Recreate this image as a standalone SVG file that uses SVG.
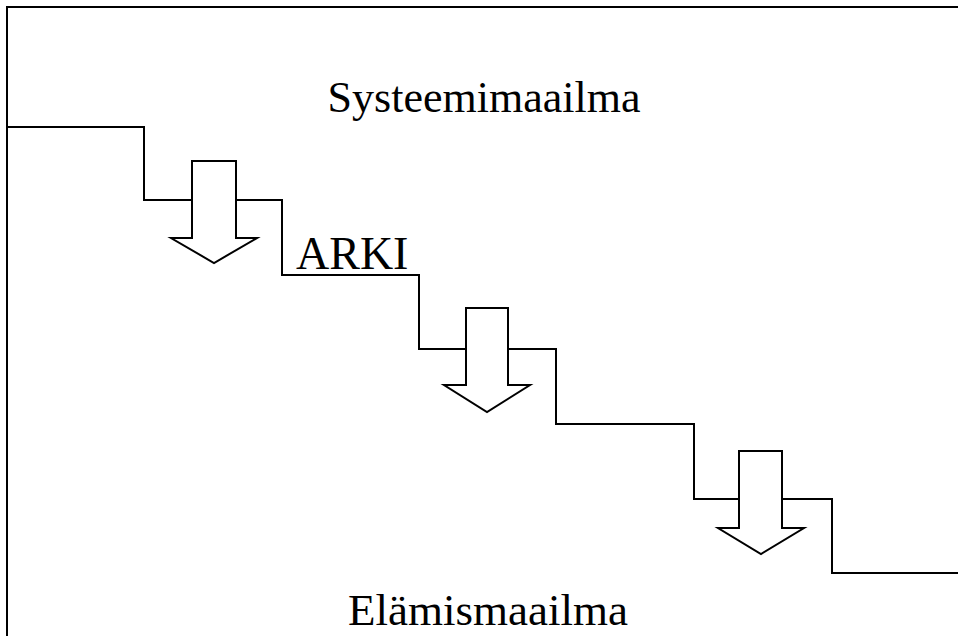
<svg xmlns="http://www.w3.org/2000/svg" width="958" height="636" viewBox="0 0 958 636">
<style>
.ln{fill:none;stroke:#000;stroke-width:2}
.ar{fill:#fff;stroke:#000;stroke-width:2;stroke-linejoin:miter}
.t{font-family:"Liberation Serif","Times New Roman",serif;font-size:44px;fill:#000}
</style>
<rect width="958" height="636" fill="#fff"/>
<g id="frame">
<path class="ln" d="M7,636 V7 H958"/>
</g>
<g id="connectors">
<path class="ln" d="M7,127 H144 V200 H282 V275 H419 V349 H556 V424 H694 V499 H832 V573 H958"/>
</g>
<g id="arrow1"><path class="ar" d="M192,161 H236 V238 H257 L214,263 L171,238 H192 Z"/></g>
<g id="arrow2"><path class="ar" d="M466,308 H508 V385 H530 L487,412 L444,385 H466 Z"/></g>
<g id="arrow3"><path class="ar" d="M739,451 H782 V528 H804 L761,554 L718,528 H739 Z"/></g>
<g id="systeemimaailma"><text class="t" x="484" y="112" text-anchor="middle">Systeemimaailma</text></g>
<g id="arki"><text class="t" x="296" y="269" style="font-size:46px">ARKI</text></g>
<g id="elamismaailma"><text class="t" x="488" y="625" text-anchor="middle" style="font-size:45px">Elämismaailma</text></g>
</svg>
